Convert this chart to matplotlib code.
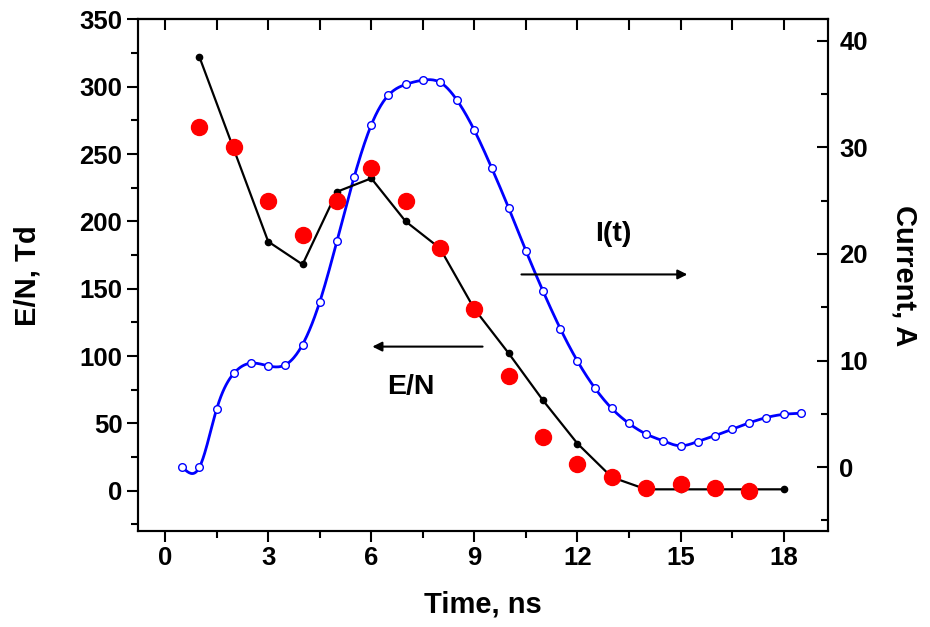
import numpy as np
import matplotlib
matplotlib.use("Agg")
import matplotlib.pyplot as plt
from matplotlib.ticker import MultipleLocator

# E/N measured points (red) and E/N calculation (black line), Td
t_red = [1, 2, 3, 4, 5, 6, 7, 8, 9, 10, 11, 12, 13, 14, 15, 16, 17]
en_red = [270, 255, 215, 190, 215, 240, 215, 180, 135, 85, 40, 20, 10, 2, 5, 2, 0]

t_black = [1, 3, 4, 5, 6, 7, 8, 9, 10, 11, 12, 13, 14, 15, 16, 17, 18]
en_black = [322, 185, 168, 222, 232, 200, 180, 135, 102, 67, 35, 10, 1, 1, 1, 1, 1]

# current I(t), A
t_cur = [0.5, 1.0, 1.5, 2.0, 2.5, 3.0, 3.5, 4.0, 4.5, 5.0, 5.5, 6.0, 6.5, 7.0,
         7.5, 8.0, 8.5, 9.0, 9.5, 10.0, 10.5, 11.0, 11.5, 12.0, 12.5, 13.0,
         13.5, 14.0, 14.5, 15.0, 15.5, 16.0, 16.5, 17.0, 17.5, 18.0, 18.5]
current = [0.0, 0.0, 5.45, 8.8, 9.75, 9.5, 9.6, 11.5, 15.5, 21.2, 27.2, 32.1,
           34.9, 35.9, 36.3, 36.1, 34.4, 31.6, 28.1, 24.3, 20.3, 16.5, 13.0,
           9.95, 7.45, 5.5, 4.1, 3.1, 2.45, 2.0, 2.4, 2.95, 3.55, 4.15, 4.65,
           4.95, 5.05]


def smooth_line(x, y, n=20):
    # natural cubic spline through the points, only for drawing the curve
    x = np.asarray(x, float)
    y = np.asarray(y, float)
    k = len(x)
    h = np.diff(x)
    A = np.zeros((k, k))
    b = np.zeros(k)
    A[0, 0] = A[-1, -1] = 1
    for i in range(1, k - 1):
        A[i, i - 1] = h[i - 1]
        A[i, i] = 2 * (h[i - 1] + h[i])
        A[i, i + 1] = h[i]
        b[i] = 6 * ((y[i + 1] - y[i]) / h[i] - (y[i] - y[i - 1]) / h[i - 1])
    m = np.linalg.solve(A, b)
    xs, ys = [], []
    for i in range(k - 1):
        s = np.linspace(0, h[i], n, endpoint=False)
        a = (m[i + 1] - m[i]) / (6 * h[i])
        c = m[i] / 2
        d = (y[i + 1] - y[i]) / h[i] - h[i] * (2 * m[i] + m[i + 1]) / 6
        xs.append(x[i] + s)
        ys.append(y[i] + d * s + c * s ** 2 + a * s ** 3)
    xs.append([x[-1]])
    ys.append([y[-1]])
    return np.concatenate(xs), np.concatenate(ys)


plt.rcParams['font.family'] = ['Liberation Sans', 'DejaVu Sans']
plt.rcParams['font.weight'] = 'bold'

fig = plt.figure(figsize=(9.3, 6.27), dpi=100)
ax = fig.add_axes([0.148, 0.153, 0.7426, 0.816])
ax2 = ax.twinx()

ax.plot(t_black, en_black, '-o', color='black', lw=1.6, ms=4.5, zorder=2)
ax.plot(t_red, en_red, 'o', color='red', ms=11.5, zorder=4)

xs, ys = smooth_line(t_cur, current)
ax2.plot(xs, ys, '-', color='blue', lw=2, zorder=3)
ax2.plot(t_cur, current, 'o', color='blue', mfc='white', mec='blue',
         ms=5.5, mew=1, zorder=3)

ax.set_zorder(ax2.get_zorder() + 1)
ax.patch.set_visible(False)

ax.set_xlim(-0.8, 19.3)
ax.set_ylim(-30, 350)
ax2.set_ylim(-6, 42)

ax.xaxis.set_major_locator(MultipleLocator(3))
ax.xaxis.set_minor_locator(MultipleLocator(1.5))
ax.yaxis.set_major_locator(MultipleLocator(50))
ax.yaxis.set_minor_locator(MultipleLocator(25))
ax2.yaxis.set_major_locator(MultipleLocator(10))
ax2.yaxis.set_minor_locator(MultipleLocator(5))

ax.tick_params(axis='both', which='major', direction='out', length=8,
               width=1.5, labelsize=18.5, pad=3)
ax.tick_params(axis='both', which='minor', direction='out', length=5, width=1.5)
ax2.tick_params(axis='y', which='major', direction='in', length=8,
                width=1.5, labelsize=18.5, pad=8)
ax2.tick_params(axis='y', which='minor', direction='in', length=5, width=1.5)

top = ax.secondary_xaxis('top')
top.xaxis.set_major_locator(MultipleLocator(3))
top.xaxis.set_minor_locator(MultipleLocator(1.5))
top.tick_params(axis='x', which='both', direction='in', length=8, width=1.5,
                labeltop=False)

for a in (ax, ax2):
    for sp in a.spines.values():
        sp.set_linewidth(1.5)
top.spines['top'].set_linewidth(1.5)

ax.set_xlabel('Time, ns', fontsize=21, fontweight='bold', va='center')
ax.xaxis.set_label_coords(0.5, -0.143)
ax.set_ylabel('E/N, Td', fontsize=21, fontweight='bold', va='center')
ax.yaxis.set_label_coords(-0.159, 0.5)
ax2.set_ylabel('Current, A', fontsize=21, fontweight='bold', rotation=270,
               va='center')
ax2.yaxis.set_label_coords(1.111, 0.5)

ax.annotate('', xy=(5.95, 107), xytext=(9.32, 107),
            arrowprops=dict(arrowstyle='-|>', color='black', lw=1.5,
                            mutation_scale=14))
ax.annotate('', xy=(15.28, 160.6), xytext=(10.29, 160.6),
            arrowprops=dict(arrowstyle='-|>', color='black', lw=1.5,
                            mutation_scale=14))
ax.text(7.15, 77, 'E/N', fontsize=20.5, fontweight='bold', ha='center', va='center')
ax.text(13.04, 191, 'I(t)', fontsize=20.5, fontweight='bold', ha='center', va='center')

fig.savefig('out.png', dpi=100)
